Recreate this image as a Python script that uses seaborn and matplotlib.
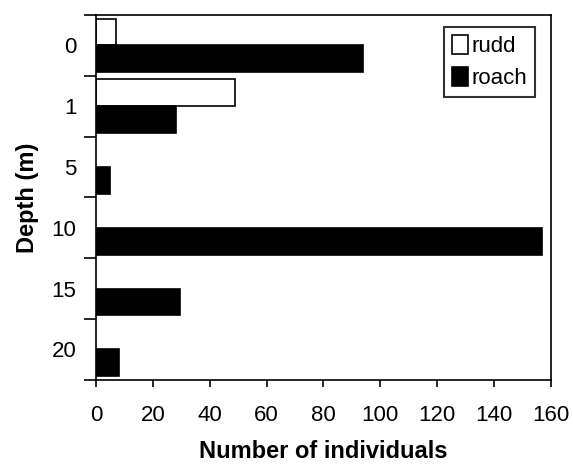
import matplotlib
matplotlib.use("Agg")
import matplotlib.pyplot as plt
from matplotlib.patches import Patch
import seaborn as sns
import numpy as np
import pandas as pd

depths = ["0", "1", "5", "10", "15", "20"]
rudd = [7, 49, 0, 0, 0, 0]
roach = [94, 28, 5, 157, 29.5, 8]
species = ["rudd", "roach"]
colors = {"rudd": "white", "roach": "black"}
x_ticks = [0, 20, 40, 60, 80, 100, 120, 140, 160]

df = pd.DataFrame({
    "depth": depths * 2,
    "count": rudd + roach,
    "species": ["rudd"] * len(depths) + ["roach"] * len(depths),
})

sns.set_style("white")
plt.rcParams["font.family"] = ["Liberation Sans", "DejaVu Sans"]
plt.rcParams["text.color"] = "black"
plt.rcParams["axes.labelcolor"] = "black"
plt.rcParams["xtick.color"] = "black"
plt.rcParams["ytick.color"] = "black"

fig = plt.figure(figsize=(5.73, 4.65), dpi=100)
ax = fig.add_axes([0.1675, 0.183, 0.794, 0.785])

sns.barplot(data=df, x="count", y="depth", hue="species", order=depths,
            hue_order=species, palette=colors,
            edgecolor="black", linewidth=1.2, width=0.88, orient="h",
            saturation=1, legend=False, ax=ax)

# drop zero-width rudd bars
for p in ax.patches:
    if p.get_width() == 0:
        p.set_visible(False)

ax.set_xlim(0, 160)
ax.set_ylim(len(depths) - 0.5, -0.5)
ax.set_xticks(x_ticks)
ax.set_xticklabels([str(v) for v in x_ticks], fontsize=16)

# ticks between groups, labels at group centres
ax.set_yticks(np.arange(-0.5, len(depths), 1.0))
ax.set_yticklabels([])
ax.set_yticks(np.arange(len(depths)), minor=True)
ax.set_yticklabels(depths, minor=True, fontsize=16)
ax.tick_params(axis="y", which="major", direction="out", length=9, width=1.2, left=True)
ax.tick_params(axis="y", which="minor", length=0, pad=14)
ax.tick_params(axis="x", direction="out", length=5, width=1.2, bottom=True, pad=13)

for s in ax.spines.values():
    s.set_color("black")
    s.set_linewidth(1.2)

ax.set_xlabel("Number of individuals", fontsize=17, fontweight="bold", labelpad=10)
ax.set_ylabel("Depth (m)", fontsize=17, fontweight="bold", labelpad=9)

handles = [Patch(facecolor=colors[s], edgecolor="black", linewidth=1.2, label=s)
           for s in species]
leg = ax.legend(handles=handles, loc="upper right", fontsize=16, frameon=True,
                fancybox=False, edgecolor="black", handlelength=0.75,
                handleheight=0.9, handletextpad=0.15, borderpad=0.35,
                labelspacing=0.45, borderaxespad=0.4, bbox_to_anchor=(0.985, 0.99))
leg.get_frame().set_linewidth(1.5)

plt.savefig("out.png", dpi=100)
